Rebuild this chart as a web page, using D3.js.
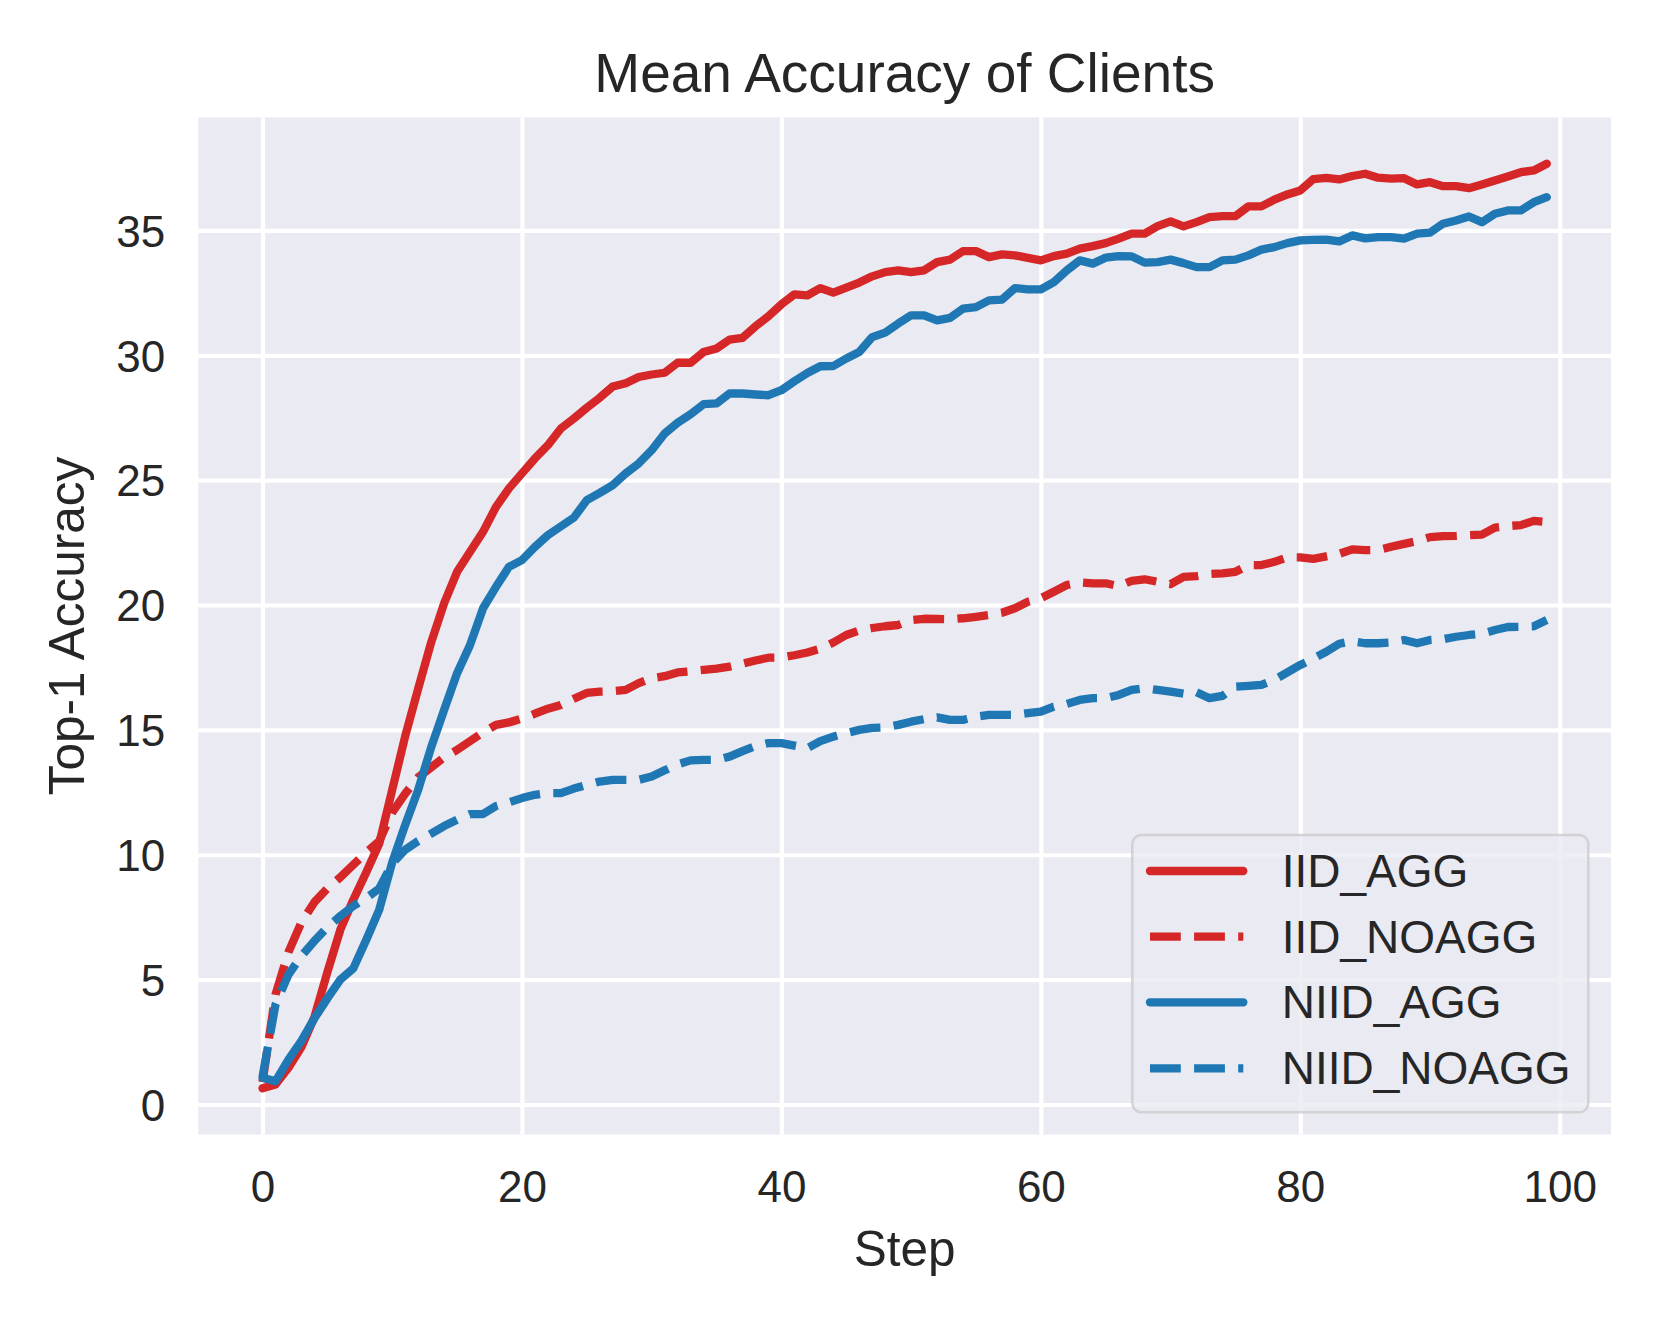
<!DOCTYPE html>
<html><head><meta charset="utf-8">
<script src="https://cdn.jsdelivr.net/npm/d3@7"></script>
<style>
html,body{margin:0;padding:0;background:#fff;}
svg{display:block;font-family:"Liberation Sans",Arial,Helvetica,sans-serif;}
</style></head><body>
<svg id="chart" width="1661" height="1329"></svg>
<script>
const title = "Mean Accuracy of Clients";
const xLabel = "Step";
const yLabel = "Top-1 Accuracy";
const steps = d3.range(0, 100);
const xTicks = [0, 20, 40, 60, 80, 100];
const yTicks = [0, 5, 10, 15, 20, 25, 30, 35];
const seriesNames = ["IID_AGG", "IID_NOAGG", "NIID_AGG", "NIID_NOAGG"];

const iidAgg = [0.65,0.8,1.47,2.3,3.5,5.3,7.0,8.2,9.3,10.45,
12.6,14.75,16.65,18.5,20.07,21.33,22.13,22.93,23.93,24.67,
25.27,25.87,26.4,27.07,27.47,27.9,28.3,28.75,28.88,29.13,
29.23,29.3,29.7,29.7,30.13,30.27,30.63,30.7,31.16,31.56,
32.04,32.44,32.4,32.69,32.51,32.71,32.91,33.16,33.33,33.4,
33.33,33.4,33.73,33.83,34.17,34.17,33.93,34.04,34.0,33.9,
33.8,33.97,34.07,34.27,34.37,34.49,34.67,34.87,34.87,35.17,
35.36,35.16,35.33,35.53,35.57,35.57,35.96,35.96,36.23,36.44,
36.6,37.05,37.1,37.04,37.18,37.27,37.11,37.07,37.09,36.84,
36.93,36.77,36.77,36.69,36.84,37.0,37.16,37.33,37.4,37.67];

const iidNoAgg = [0.9,4.4,6.1,7.3,8.1,8.65,9.1,9.6,10.1,10.55,
11.7,12.45,13.1,13.5,13.9,14.2,14.55,14.9,15.2,15.3,
15.45,15.65,15.85,16.0,16.25,16.48,16.53,16.55,16.6,16.87,
17.07,17.15,17.3,17.35,17.4,17.45,17.53,17.65,17.78,17.89,
17.9,17.99,18.1,18.25,18.5,18.8,18.98,19.08,19.15,19.2,
19.4,19.45,19.44,19.43,19.47,19.53,19.6,19.69,19.87,20.13,
20.27,20.53,20.8,20.91,20.87,20.87,20.76,20.97,21.03,20.93,
20.84,21.13,21.16,21.24,21.27,21.33,21.6,21.6,21.73,21.91,
21.91,21.85,21.95,22.05,22.23,22.2,22.2,22.33,22.45,22.56,
22.72,22.76,22.77,22.8,22.82,23.1,23.16,23.2,23.37,23.33];

const niidAgg = [1.07,0.93,1.8,2.55,3.45,4.25,5.0,5.45,6.6,7.8,
9.7,11.2,12.6,14.3,15.8,17.27,18.4,19.87,20.73,21.53,
21.8,22.33,22.8,23.15,23.5,24.2,24.49,24.8,25.27,25.67,
26.2,26.87,27.3,27.64,28.04,28.07,28.47,28.47,28.43,28.4,
28.6,28.96,29.29,29.56,29.57,29.87,30.13,30.73,30.91,31.27,
31.6,31.6,31.4,31.5,31.87,31.93,32.2,32.23,32.69,32.64,
32.64,32.93,33.4,33.8,33.67,33.91,33.97,33.96,33.71,33.73,
33.83,33.69,33.53,33.53,33.8,33.83,34.0,34.23,34.33,34.49,
34.6,34.62,34.63,34.56,34.8,34.68,34.73,34.73,34.67,34.87,
34.91,35.27,35.4,35.56,35.33,35.67,35.8,35.8,36.13,36.33];

const niidNoAgg = [1.1,4.0,5.2,5.95,6.55,7.1,7.55,7.95,8.27,8.65,
9.65,10.2,10.55,10.85,11.15,11.4,11.63,11.63,11.95,12.1,
12.27,12.4,12.47,12.47,12.65,12.8,12.93,13.0,13.0,13.0,
13.13,13.38,13.62,13.78,13.8,13.8,13.93,14.15,14.35,14.47,
14.47,14.37,14.27,14.55,14.73,14.87,15.0,15.08,15.1,15.2,
15.33,15.43,15.5,15.4,15.4,15.53,15.6,15.6,15.6,15.67,
15.73,15.93,16.04,16.2,16.27,16.27,16.4,16.6,16.67,16.6,
16.53,16.45,16.51,16.27,16.36,16.73,16.76,16.8,17.0,17.3,
17.6,17.85,18.13,18.45,18.55,18.47,18.47,18.5,18.6,18.47,
18.6,18.63,18.73,18.8,18.85,19.0,19.12,19.13,19.15,19.4];

const seriesValues = [iidAgg, iidNoAgg, niidAgg, niidNoAgg];
const seriesColors = ["#d62728", "#d62728", "#1f77b4", "#1f77b4"];
const seriesDashed = [false, true, false, true];

// layout
const W = 1661, H = 1329;
const plot = {left: 198.3, top: 117.5, width: 1412.7, height: 1017};
const textColor = "#262626";
const lineW = 8.3;
const dashPattern = "30.8,13.3";

const svg = d3.select("#chart");
svg.append("rect").attr("width", W).attr("height", H).attr("fill", "#ffffff");

// scales with matplotlib-like 5% margins
const xExt = d3.extent(steps);
const xPad = (xExt[1] - xExt[0]) * 0.05;
const x = d3.scaleLinear().domain([xExt[0] - xPad, xExt[1] + xPad]).range([0, plot.width]);
const allVals = seriesValues.flat();
const yExt = d3.extent(allVals);
const yPad = (yExt[1] - yExt[0]) * 0.05;
const y = d3.scaleLinear().domain([yExt[0] - yPad, yExt[1] + yPad]).range([plot.height, 0]);

const g = svg.append("g").attr("transform", `translate(${plot.left},${plot.top})`);
g.append("rect").attr("width", plot.width).attr("height", plot.height).attr("fill", "#EAEAF2");

// grid + tick labels via axes
const xAxis = d3.axisBottom(x).tickValues(xTicks).tickFormat(d3.format("d"))
  .tickSize(-plot.height).tickPadding(0);
const gx = g.append("g").attr("transform", `translate(0,${plot.height})`).call(xAxis);
gx.select(".domain").remove();
gx.selectAll(".tick line").attr("stroke", "#ffffff").attr("stroke-width", 4.2);
gx.selectAll(".tick text").attr("fill", textColor).attr("font-size", 44)
  .attr("y", 1202 - plot.top - plot.height).attr("dy", 0)
  .attr("font-family", '"Liberation Sans",Arial,sans-serif');

const yAxis = d3.axisLeft(y).tickValues(yTicks).tickFormat(d3.format("d"))
  .tickSize(-plot.width).tickPadding(33);
const gy = g.append("g").call(yAxis);
gy.select(".domain").remove();
gy.selectAll(".tick line").attr("stroke", "#ffffff").attr("stroke-width", 4.2);
gy.selectAll(".tick text").attr("fill", textColor).attr("font-size", 44)
  .attr("dy", "0.36em")
  .attr("font-family", '"Liberation Sans",Arial,sans-serif');

// lines
const lineGen = d3.line().x((d, i) => x(steps[i])).y(d => y(d));
seriesValues.forEach((vals, k) => {
  g.append("path")
    .datum(vals)
    .attr("d", lineGen)
    .attr("fill", "none")
    .attr("stroke", seriesColors[k])
    .attr("stroke-width", lineW)
    .attr("stroke-linejoin", "round")
    .attr("stroke-linecap", seriesDashed[k] ? "butt" : "round")
    .attr("stroke-dasharray", seriesDashed[k] ? dashPattern : null);
});

// title and labels
svg.append("text").attr("x", plot.left + plot.width / 2).attr("y", 92)
  .attr("text-anchor", "middle").attr("font-size", 55).attr("fill", textColor).text(title);
svg.append("text").attr("x", plot.left + plot.width / 2).attr("y", 1266)
  .attr("text-anchor", "middle").attr("font-size", 49.5).attr("fill", textColor).text(xLabel);
svg.append("text").attr("transform", `translate(84,${plot.top + plot.height / 2}) rotate(-90)`)
  .attr("text-anchor", "middle").attr("font-size", 49.5).attr("fill", textColor).text(yLabel);

// legend
const leg = svg.append("g");
leg.append("rect").attr("x", 1132.3).attr("y", 835).attr("width", 456).attr("height", 277.3)
  .attr("rx", 9).attr("ry", 9)
  .attr("fill", "#EAEAF2").attr("fill-opacity", 0.8)
  .attr("stroke", "#cccccc").attr("stroke-opacity", 0.8).attr("stroke-width", 2.5);
const rowY = [871, 936.7, 1002.3, 1068.3];
seriesNames.forEach((name, k) => {
  leg.append("line").attr("x1", 1150).attr("x2", 1243.3)
    .attr("y1", rowY[k]).attr("y2", rowY[k])
    .attr("stroke", seriesColors[k]).attr("stroke-width", lineW)
    .attr("stroke-linecap", seriesDashed[k] ? "butt" : "round")
    .attr("stroke-dasharray", seriesDashed[k] ? dashPattern : null);
  leg.append("text").attr("x", 1281.7).attr("y", rowY[k] + 16)
    .attr("font-size", 46).attr("fill", textColor).text(name);
});
</script>
</body></html>
